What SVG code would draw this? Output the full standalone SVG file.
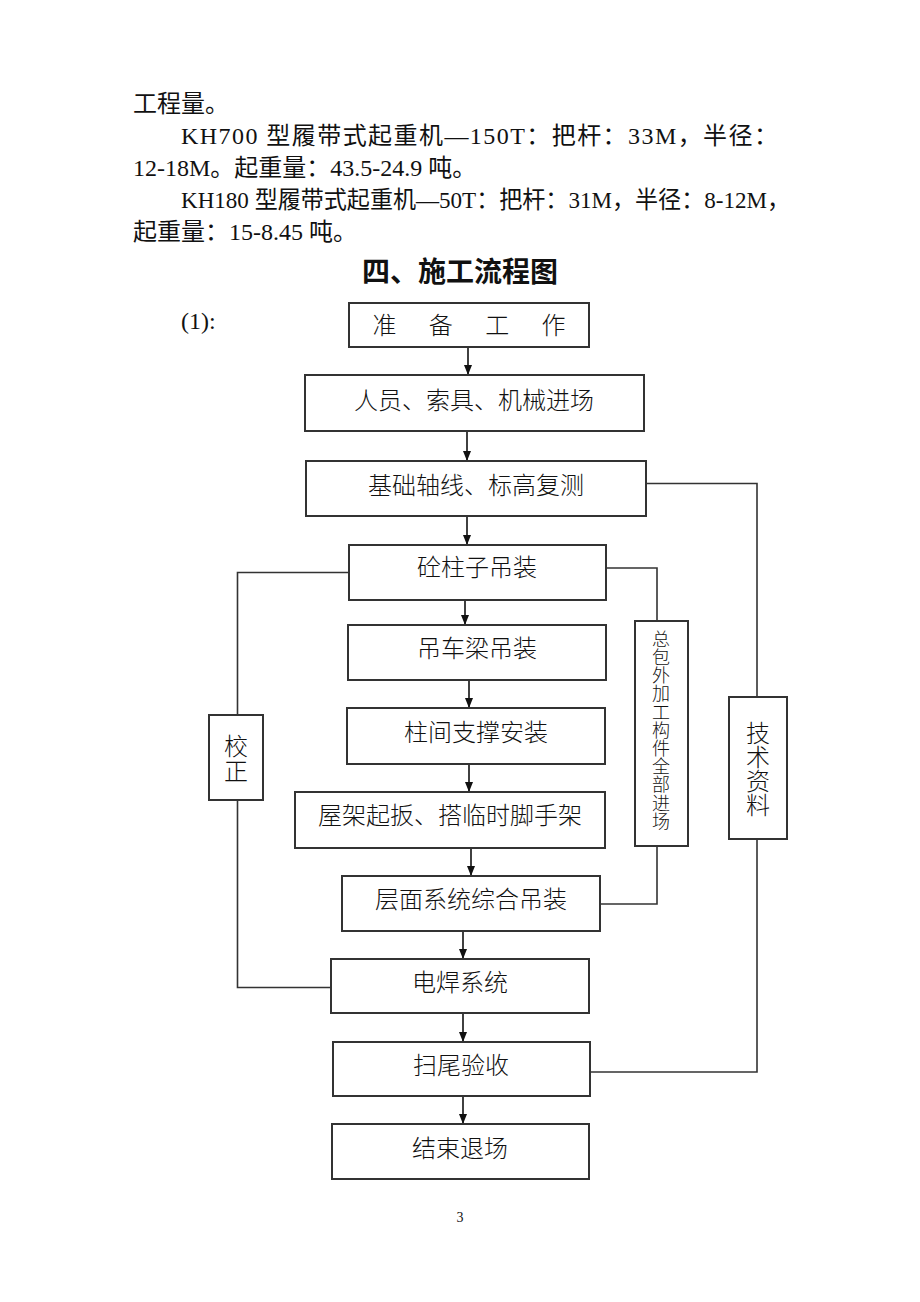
<svg xmlns="http://www.w3.org/2000/svg" width="920" height="1302" viewBox="0 0 920 1302">
<style>
.body{font-family:"Liberation Serif","Noto Sans CJK SC",serif;font-size:24px;fill:#111}
.title{font-family:"Liberation Serif","Noto Sans CJK SC",serif;font-size:28px;font-weight:bold;fill:#111}
.box{fill:#fff;stroke:#333;stroke-width:2}
.lbl{font-family:"Noto Sans CJK SC",sans-serif;font-size:24px;font-weight:300;fill:#111;text-anchor:middle}
.vt{font-family:"Noto Sans CJK SC",sans-serif;font-weight:300;fill:#111;text-anchor:middle;writing-mode:vertical-rl}
.ln{fill:none;stroke:#333;stroke-width:1.6}
.arr{fill:none;stroke:#111;stroke-width:1.6;marker-end:url(#ah)}
.pg{font-family:"Liberation Serif",serif;font-size:14px;fill:#111;text-anchor:middle}
</style>
<defs>
<marker id="ah" markerUnits="userSpaceOnUse" markerWidth="10" markerHeight="10" viewBox="0 0 10 10" refX="10" refY="5" orient="auto">
<path d="M0,1 L10,5 L0,9 Z" fill="#111"/>
</marker>
</defs>
<rect width="920" height="1302" fill="#fff"/>

<g id="text-body">
<text class="body" x="133" y="112">工程量。</text>
<text class="body" x="181" y="144" textLength="597" lengthAdjust="spacing">KH700 型履带式起重机—150T：把杆：33M，半径：</text>
<text class="body" x="133" y="176">12-18M。起重量：43.5-24.9 吨。</text>
<text class="body" x="181" y="208" textLength="609" lengthAdjust="spacingAndGlyphs">KH180 型履带式起重机—50T：把杆：31M，半径：8-12M，</text>
<text class="body" x="133" y="240">起重量：15-8.45 吨。</text>
<text class="title" x="460" y="282" text-anchor="middle">四、施工流程图</text>
<text class="body" x="181" y="329">(1):</text>
</g>

<g id="connectors">
<path class="arr" d="M468,347 V375"/>
<path class="arr" d="M467,431 V461"/>
<path class="arr" d="M467,516 V545"/>
<path class="arr" d="M465,600 V625"/>
<path class="arr" d="M469,680 V708"/>
<path class="arr" d="M469,764 V792"/>
<path class="arr" d="M471,848 V876"/>
<path class="arr" d="M463,931 V959"/>
<path class="arr" d="M463,1013 V1042"/>
<path class="arr" d="M463,1096 V1124"/>
<path class="ln" d="M646,483.5 H757 V697"/>
<path class="ln" d="M757,839 V1072 H590"/>
<path class="ln" d="M606,568 H657 V621"/>
<path class="ln" d="M657,846 V904 H599"/>
<path class="ln" d="M349,572.5 H237.5 V715"/>
<path class="ln" d="M237.5,800 V987.5 H331"/>
</g>

<g id="n1"><rect class="box" x="349" y="303" width="240" height="44"/><text class="lbl" x="469" y="334" xml:space="preserve" word-spacing="27">准 备 工 作</text></g>
<g id="n2"><rect class="box" x="305" y="375" width="339" height="56"/><text class="lbl" x="474" y="409">人员、索具、机械进场</text></g>
<g id="n3"><rect class="box" x="306" y="461" width="340" height="55"/><text class="lbl" x="476" y="494">基础轴线、标高复测</text></g>
<g id="n4"><rect class="box" x="349" y="545" width="257" height="55"/><text class="lbl" x="477" y="576">砼柱子吊装</text></g>
<g id="n5"><rect class="box" x="348" y="625" width="258" height="55"/><text class="lbl" x="477" y="657">吊车梁吊装</text></g>
<g id="n6"><rect class="box" x="347" y="708" width="258" height="56"/><text class="lbl" x="476" y="741">柱间支撑安装</text></g>
<g id="n7"><rect class="box" x="295" y="792" width="310" height="56"/><text class="lbl" x="450" y="824">屋架起扳、搭临时脚手架</text></g>
<g id="n8"><rect class="box" x="342" y="876" width="258" height="55"/><text class="lbl" x="471" y="908">层面系统综合吊装</text></g>
<g id="n9"><rect class="box" x="331" y="959" width="258" height="54"/><text class="lbl" x="460" y="991">电焊系统</text></g>
<g id="n10"><rect class="box" x="333" y="1042" width="257" height="54"/><text class="lbl" x="461" y="1074">扫尾验收</text></g>
<g id="n11"><rect class="box" x="332" y="1124" width="257" height="55"/><text class="lbl" x="460" y="1157">结束退场</text></g>

<g id="n-jiaozheng"><rect class="box" x="209" y="715" width="54" height="85"/>
<text class="vt" x="236" y="759" font-size="24" letter-spacing="1">校正</text></g>

<g id="n-zongbao"><rect class="box" x="635" y="621" width="53" height="225"/>
<text class="vt" x="661" y="730" font-size="18" letter-spacing="0.2">总包外加工构件全部进场</text></g>

<g id="n-jishu"><rect class="box" x="729" y="697" width="58" height="142"/>
<text class="vt" x="758" y="769" font-size="24" letter-spacing="0">技术资料</text></g>

<text class="pg" x="460" y="1222">3</text>
</svg>
